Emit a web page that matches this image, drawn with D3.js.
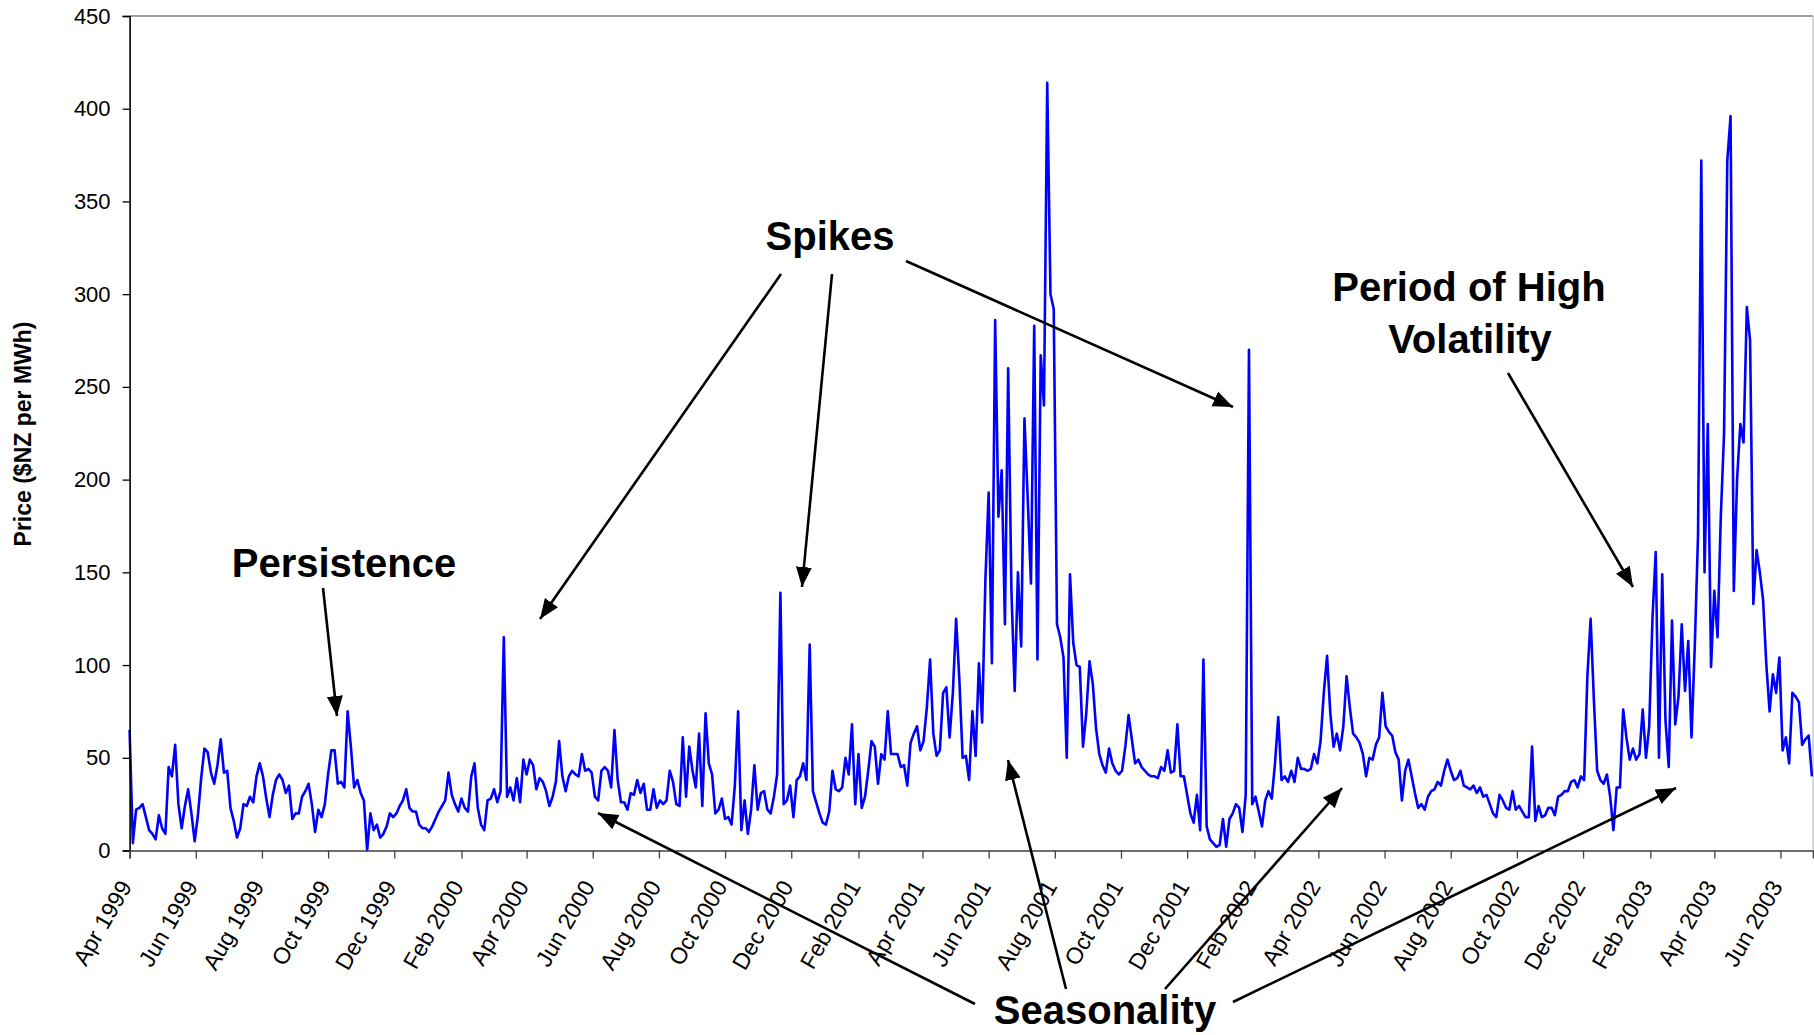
<!DOCTYPE html>
<html>
<head>
<meta charset="utf-8">
<script src="https://cdn.jsdelivr.net/npm/d3@7"></script>
<style>
  html, body { margin: 0; padding: 0; background: #fff; }
  svg { display: block; font-family: "Liberation Sans", Arial, sans-serif; }
</style>
</head>
<body>
<svg id="chart" width="1814" height="1035"></svg>
<script>
// ---- Data (daily-average price sampled every 3 days from 1 Apr 1999) ----
const startDateLabel = "1999-04-01";
const stepDays = 3;
const prices = [
  65,4,22,23,25,18,11,9,6,19, 12,9,45,40,57,25,12,24,33,20,
  5,19,39,55,53,42,36,46,60,42, 43,23,16,7,12,25,24,29,26,40,
  47,40,28,18,30,38,41,38,31,35, 17,20,20,29,32,36,25,10,22,18,
  25,41,54,54,36,37,34,75,56,34, 38,31,27,0,20,11,14,7,9,13,
  20,18,20,24,27,33,
  23,21,21,14,12,12,10,13,17,21, 24,27,42,30,25,21,28,23,21,40,
  47,23,14,11,27,28,33,26,32,115, 29,34,27,39,26,49,41,49,46,33,
  39,37,32,24,29,37,59,40,32,40, 43,41,40,52,43,44,42,29,27,43,
  45,43,34,65,38,26,26,22,31,30, 38,31,36,22,22,33,23,27,25,27,
  43,37,25,24,61,29,56,
  43,34,63,24,74,47,41,20,22,28, 17,18,14,35,75,11,27,9,22,46,
  22,31,32,22,20,29,41,139,25,27, 35,18,38,40,47,38,111,32,26,20,
  15,14,21,43,33,32,34,50,41,68, 25,52,23,29,43,59,56,36,52,49,
  75,52,52,52,45,46,35,58,63,67, 54,59,77,103,63,51,54,85,88,61,
  85,125,92,50,51,38,
  75,51,101,69,146,193,101,286,180,205, 122,260,140,86,150,110,233,190,144,283,
  103,267,240,414,300,292,122,115,104,50, 149,112,100,99,56,74,102,90,66,52,
  46,42,55,47,43,41,43,56,73,60, 47,49,45,43,41,40,40,39,45,43,
  54,42,43,68,40,40,30,20,15,30, 11,103,13,6,4,2,3,17,2,17,
  20,25,23,10,30,270,
  25,29,21,13,27,32,28,47,72,38, 40,37,43,37,50,44,44,43,44,52,
  47,59,85,105,74,56,63,54,67,94, 77,63,61,58,52,40,50,49,57,61,
  85,67,64,62,53,49,27,43,49,40, 31,23,25,22,29,32,33,37,35,43,
  49,43,38,39,43,35,34,33,35,31, 34,29,30,25,20,18,30,27,23,22,
  32,22,24,21,18,18,
  56,16,24,18,19,23,23,19,29,30, 32,32,37,38,34,40,38,94,125,81,
  43,38,36,41,29,11,34,34,76,61, 49,55,49,52,76,50,67,125,161,50,
  149,70,45,124,68,83,122,86,113,61, 110,170,372,150,230,99,140,115,180,225,
  372,396,140,200,230,220,293,275,133,162, 150,135,100,75,95,85,104,54,61,47,
  85,83,80,57,60,62,40
];
const xDomainLabels = ["1999-04-01", "2003-07-01"];
const xTickLabels = ["Apr 1999","Jun 1999","Aug 1999","Oct 1999","Dec 1999","Feb 2000","Apr 2000","Jun 2000",
  "Aug 2000","Oct 2000","Dec 2000","Feb 2001","Apr 2001","Jun 2001","Aug 2001","Oct 2001","Dec 2001",
  "Feb 2002","Apr 2002","Jun 2002","Aug 2002","Oct 2002","Dec 2002","Feb 2003","Apr 2003","Jun 2003"];
const yTicks = [0,50,100,150,200,250,300,350,400,450];
const yTitle = "Price ($NZ per MWh)";
const annotations = [
  { text: "Spikes", x: 830, y: 250 },
  { text: "Persistence", x: 344, y: 577 },
  { text: "Period of High", x: 1469, y: 301 },
  { text: "Volatility", x: 1470, y: 353 },
  { text: "Seasonality", x: 1105, y: 1024 }
];
const arrows = [
  [781, 274, 540, 619], [832, 274, 802, 587], [906, 261, 1233, 407],
  [323, 588, 337, 716],
  [1508, 373, 1633, 587],
  [975, 1004, 598, 813], [1066, 989, 1008, 760], [1165, 989, 1342, 788], [1233, 1002, 1676, 788]
];

// ---- Layout ----
const plotL = 129.6, plotR = 1813, plotT = 16, plotB = 850.5;
const parseISO = d3.timeParse("%Y-%m-%d");
const parseTick = d3.timeParse("%b %Y");
const startDate = parseISO(startDateLabel);

const svg = d3.select("#chart");
const x = d3.scaleTime().domain(xDomainLabels.map(parseISO)).range([plotL, plotR]);
const y = d3.scaleLinear().domain([0, 450]).range([plotB, plotT]);

// frame (top and right, grey)
svg.append("line").attr("x1", plotL).attr("x2", plotR).attr("y1", plotT).attr("y2", plotT)
  .attr("stroke", "#808080").attr("stroke-width", 1.5);
svg.append("line").attr("x1", plotR).attr("x2", plotR).attr("y1", plotT).attr("y2", plotB)
  .attr("stroke", "#b0b0b0").attr("stroke-width", 1);

// line
const line = d3.line()
  .x((d, i) => x(d3.timeDay.offset(startDate, i * stepDays)))
  .y(d => y(d));
svg.append("path").datum(prices)
  .attr("d", line).attr("fill", "none").attr("stroke", "#0000ff")
  .attr("stroke-width", 2.6).attr("stroke-linejoin", "round");

// y axis
const yAxis = d3.axisLeft(y).tickValues(yTicks).tickSize(7).tickPadding(12);
const gy = svg.append("g").attr("transform", `translate(${plotL},0)`).call(yAxis);
gy.select(".domain").attr("stroke", "#000").attr("stroke-width", 1.6);
gy.selectAll(".tick line").attr("stroke", "#000").attr("stroke-width", 1.3);
gy.selectAll(".tick text").attr("font-size", 22).attr("fill", "#000")
  .attr("font-family", "Liberation Sans, Arial, sans-serif");

// x axis
const tickDates = xTickLabels.map(parseTick);
const xAxis = d3.axisBottom(x).tickValues(tickDates).tickSize(8).tickFormat(() => "");
const gx = svg.append("g").attr("transform", `translate(0,${plotB})`).call(xAxis);
gx.select(".domain").attr("stroke", "#404040").attr("stroke-width", 1.6);
gx.selectAll(".tick line").attr("stroke", "#404040").attr("stroke-width", 1.3);
svg.append("g").selectAll("text").data(tickDates).join("text")
  .attr("transform", (d) => `translate(${x(d) + 3},${plotB + 36}) rotate(-60)`)
  .attr("text-anchor", "end")
  .attr("font-size", 23).attr("fill", "#000")
  .text((d, i) => xTickLabels[i]);

// y title
svg.append("text")
  .attr("transform", `translate(31,434) rotate(-90)`)
  .attr("text-anchor", "middle").attr("font-weight", "bold").attr("font-size", 23)
  .text(yTitle);

// arrows
const defs = svg.append("defs");
defs.append("marker").attr("id", "ah").attr("markerUnits", "userSpaceOnUse")
  .attr("markerWidth", 24).attr("markerHeight", 20).attr("viewBox", "0 -10 24 20")
  .attr("refX", 20).attr("refY", 0).attr("orient", "auto")
  .append("path").attr("d", "M0,-8L20,0L0,8Z").attr("fill", "#000");
svg.append("g").selectAll("line").data(arrows).join("line")
  .attr("x1", d => d[0]).attr("y1", d => d[1]).attr("x2", d => d[2]).attr("y2", d => d[3])
  .attr("stroke", "#000").attr("stroke-width", 2.6).attr("marker-end", "url(#ah)");

// annotations
svg.append("g").selectAll("text").data(annotations).join("text")
  .attr("x", d => d.x).attr("y", d => d.y)
  .attr("text-anchor", "middle").attr("font-weight", "bold").attr("font-size", 40)
  .attr("fill", "#000").text(d => d.text);
</script>
</body>
</html>
